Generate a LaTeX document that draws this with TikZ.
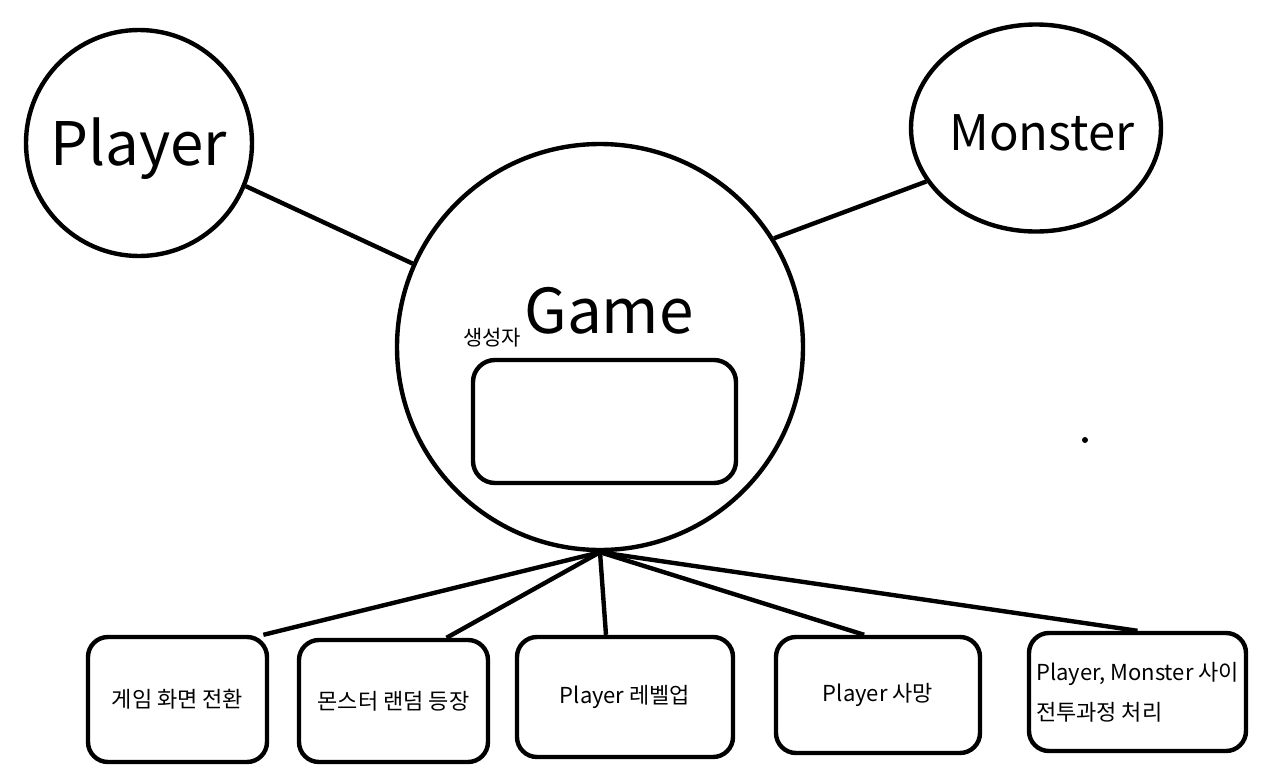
\documentclass[tikz,border=0pt]{standalone}
\usepackage{fontspec}
\setmainfont{Noto Sans CJK KR}
\usetikzlibrary{shapes.geometric}

\begin{document}
\begin{tikzpicture}[x=0.5pt,y=-0.5pt,line width=2.2pt,
  blob/.style={draw,circle,inner sep=0pt},
  title/.style={anchor=base,inner sep=0pt},
  task/.style={draw,rounded corners=10pt,inner sep=0pt,align=center,
    font=\fontsize{11}{20}\selectfont}]
\useasboundingbox (0,0) rectangle (1281,782);
% 위쪽 원 세 개 (Player, Monster, Game)
\node[blob,minimum size=113pt] (player) at (139,143) {};
\node[draw,ellipse,inner sep=0pt,minimum width=125pt,minimum height=103.5pt] (monster) at (1036,128) {};
\node[blob,minimum size=203pt] (game) at (600,347) {};
\node[title,font=\fontsize{30}{36}\selectfont] (playerlbl) at (139,165) {Player};
\node[title,font=\fontsize{24.5}{30}\selectfont] (monsterlbl) at (1042,150) {Monster};
\node[title,font=\fontsize{31}{36}\selectfont] (gamelbl) at (609,333) {Game};
% 생성자 상자
\node[inner sep=0pt,font=\fontsize{10.5}{12}\selectfont] (ctorlbl) at (492,338) {생성자};
\node[draw,rounded corners=11pt,minimum width=131.5pt,minimum height=61.5pt] (ctor) at (604.5,421.5) {};
% 아래쪽 기능 상자
\node[task,minimum width=89.5pt,minimum height=62.5pt] (b1) at (177.5,699.5) {게임 화면 전환};
\node[task,minimum width=94.5pt,minimum height=61pt] (b2) at (393.5,701) {몬스터 랜덤 등장};
\node[task,minimum width=108pt,minimum height=60pt] (b3) at (625,697) {Player 레벨업};
\node[task,minimum width=102pt,minimum height=58pt] (b4) at (878,695) {Player 사망};
\node[task,align=left,minimum width=108.5pt,minimum height=59pt] (b5) at (1137.5,692)
  {Player, Monster 사이\\전투과정 처리};
% 연결선
\draw (player.338) -- (game.156);
\draw (monster.206) -- (game.32);
\foreach \b/\a in {b1/37.6,b2/50,b3/107,b4/103,b5/90}
  \draw (game.south) -- (\b.\a);
% 오른쪽 작은 점
\fill (1085,440) circle (1.5pt);
\end{tikzpicture}
\end{document}
